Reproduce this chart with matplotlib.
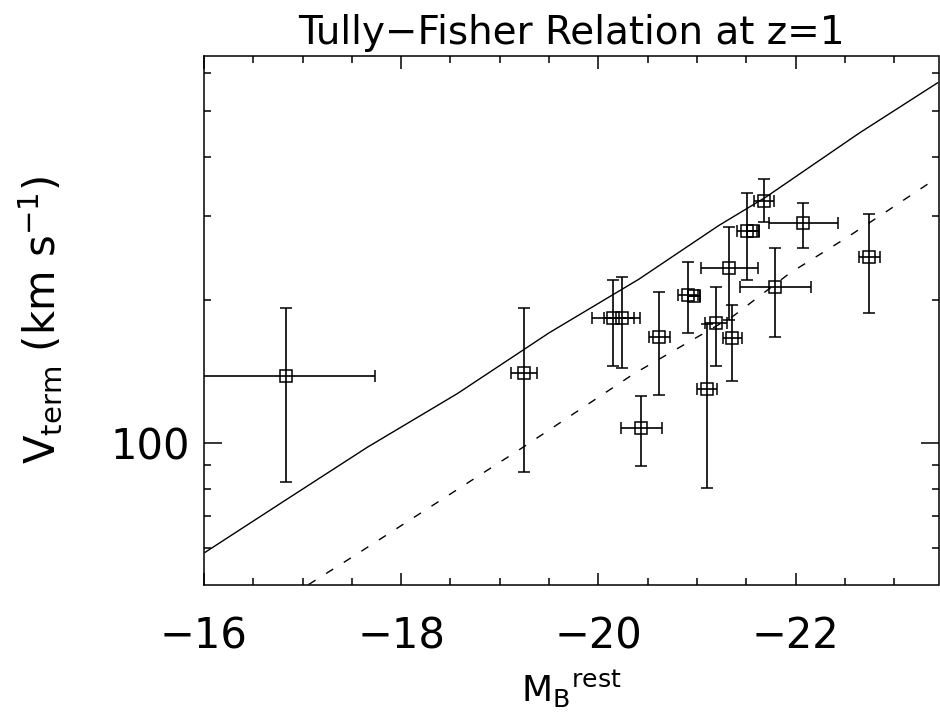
#Tully-Fisher relation at z=1, remake of the old IDL plot
import numpy as np
import matplotlib
matplotlib.use("Agg")
import matplotlib.pyplot as plt
from matplotlib.ticker import FixedLocator, NullFormatter, MultipleLocator

plt.rcParams['font.family'] = ['DejaVu Sans']
plt.rcParams['mathtext.fontset'] = 'dejavusans'

#data-----------------------------------------------------------------------
#(entries 8 and 14 are the second squares of the two doubled symbols)
mag = [-16.835, -19.244, -20.147, -20.242, -20.62, -20.435, -20.91, -20.97,
       -21.10, -21.19, -21.36, -21.33, -21.51, -21.57, -21.68, -22.079, -21.795, -22.748]
vterm = [138.6, 140.3, 183.2, 183.2, 166.8, 107.4, 204.8, 204.0,
         129.7, 179.2, 166.2, 233.0, 279.8, 279.0, 323.6, 290.3, 212.8, 246.1]
#ends of the vertical error bars
v_low = [82.8, 86.9, 145.3, 143.6, 126.2, 89.4, 170.2, 204.0,
         80.3, 145.3, 135.3, 181.5, 220.4, 279.0, 291.6, 256.9, 167.4, 188.1]
v_high = [192.4, 192.4, 220.4, 223.9, 208.2, 125.6, 240.8, 204.0,
          178.1, 212.8, 195.3, 285.0, 335.6, 279.0, 359.0, 319.7, 256.9, 303.7]
mag_err = [0.9, 0.13, 0.21, 0.18, 0.105, 0.21, 0.1, 0.06,
           0.1, 0.11, 0.095, 0.29, 0.1, 0.06, 0.1, 0.35, 0.36, 0.107]

#local relation (solid) and shifted relation (dashed)
solid_mag = [-16.01, -16.82, -17.66, -18.57, -19.50, -20.41, -21.22, -21.70, -22.65, -23.44]
solid_v = [58.8, 75.6, 98.0, 127.0, 170.5, 221.1, 286.8, 329.4, 449.7, 573.0]
dash_mag = [-17.06, -17.51, -19.21, -20.36, -21.36, -21.94, -22.51, -22.92, -23.44]
dash_v = [50.3, 57.6, 97.1, 139.8, 184.4, 227.6, 269.8, 306.9, 362.0]

xticks = [-16, -18, -20, -22]
yminor = [60, 70, 80, 90, 200, 300, 400, 500, 600]

#plot------------------------------------------------------------------------
fig = plt.figure(figsize=(9.4, 7.14), dpi=100)
ax = fig.add_axes([204/940, 1-584.6/714, 734.5/940, 529/714])

ax.plot(solid_mag, solid_v, color='black', lw=1.0)
ax.plot(dash_mag, dash_v, color='black', lw=1.0, dashes=(6, 9))

yerr = [np.array(vterm) - np.array(v_low), np.array(v_high) - np.array(vterm)]
ax.errorbar(mag, vterm, xerr=mag_err, yerr=yerr, fmt='s', ms=9, mfc='none',
            mec='black', mew=1.1, ecolor='black', elinewidth=1.2, capsize=4,
            capthick=1.2)

ax.set_yscale('log')
ax.set_xlim(-16, -23.45)
ax.set_ylim(50.3, 654)

ax.set_xticks(xticks)
ax.set_xticklabels(['\u221216', '\u221218', '\u221220', '\u221222'])
ax.xaxis.set_minor_locator(MultipleLocator(0.5))
ax.yaxis.set_major_locator(FixedLocator([100]))
ax.yaxis.set_minor_locator(FixedLocator(yminor))
ax.yaxis.set_minor_formatter(NullFormatter())
ax.set_yticklabels(['100'])

ax.tick_params(which='both', direction='in', top=True, right=True, width=1.1)
ax.tick_params(axis='x', which='major', length=9, labelsize=30, pad=22)
ax.tick_params(axis='x', which='minor', length=5)
ax.tick_params(axis='y', which='major', length=13, labelsize=30, pad=10)
ax.tick_params(axis='y', which='minor', length=5)
for s in ax.spines.values():
    s.set_linewidth(1.1)

ax.set_title('Tully\u2212Fisher Relation at z=1', fontsize=28, pad=8)
ax.set_xlabel(r'M$_{\rm B}$$^{\rm rest}$', fontsize=26, labelpad=8)
ax.set_ylabel(r'V$_{\rm term}$ (km s$^{-1}$)', fontsize=30)
ax.yaxis.set_label_coords(-0.19, 0.5)

plt.savefig('out.png', dpi=100)
plt.close()
